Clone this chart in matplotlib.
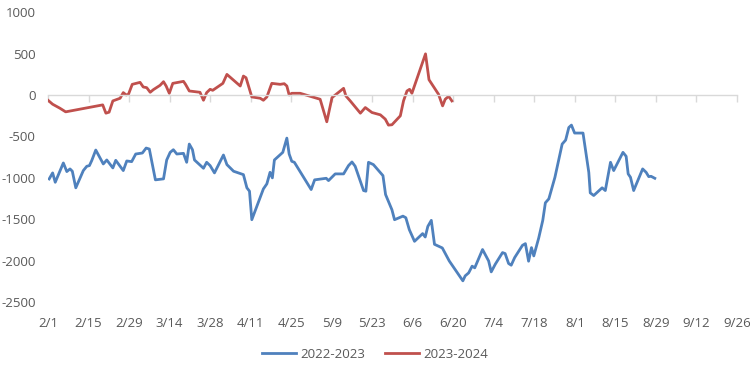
import matplotlib
matplotlib.use("Agg")
import matplotlib.pyplot as plt

# Day offsets from Feb 1 and values
days_2223 = [0.4, 1.6, 2.5, 5.3, 6.5, 7.6, 8.4, 9.6, 12.2, 13.4, 14.3, 15.1, 16.5, 19.1, 20.3,
             22.4, 23.4, 26.0, 27.2, 28.9, 30.3, 32.6, 33.9, 35.0, 37.1, 39.9, 41.0, 42.2, 43.3,
             44.5, 46.8, 47.9, 48.8, 49.9, 50.6, 53.7, 54.8, 56.0, 57.5, 60.6, 61.8, 64.1, 67.5,
             68.7, 69.6, 70.4, 74.4, 75.6, 76.7, 77.5, 78.2, 81.1, 82.5, 83.3, 84.2, 85.1, 90.9,
             92.1, 96.1, 96.9, 99.2, 102.1, 103.8, 105.0, 106.1, 109.0, 109.8, 110.7, 112.4,
             115.7, 116.6, 118.8, 119.7, 122.6, 123.6, 124.8, 126.6, 129.4, 130.3, 131.2, 132.4,
             133.5, 136.2, 138.6, 143.3, 144.1, 145.3, 146.5, 147.4, 150.1, 152.2, 153.1, 154.5,
             157.0, 157.9, 159.1, 160.0, 161.2, 163.9, 164.9, 166.0, 167.0, 167.8, 169.5, 170.9,
             171.8, 173.0, 175.1, 177.6, 178.8, 179.9, 180.8, 181.9, 184.8, 186.8, 187.3, 188.5,
             191.4, 192.5, 194.3, 195.4, 198.6, 199.7, 200.4, 201.2, 202.3, 205.4, 206.6, 207.5,
             208.3, 209.6]
vals_2223 = [-1014, -941, -1054, -821, -925, -893, -921, -1121, -913, -861, -853, -793, -665,
             -833, -785, -881, -789, -913, -797, -805, -713, -701, -641, -653, -1025, -1013,
             -785, -693, -661, -713, -705, -813, -593, -661, -785, -885, -813, -853, -941, -725,
             -841, -921, -962, -1121, -1162, -1506, -1134, -1073, -934, -1001, -785, -693, -521,
             -713, -801, -813, -1142, -1025, -1006, -1034, -953, -953, -853, -809, -861, -1154,
             -1162, -813, -841, -974, -1202, -1386, -1506, -1463, -1482, -1626, -1767, -1674,
             -1715, -1587, -1514, -1803, -1847, -2004, -2244, -2184, -2148, -2067, -2087, -1866,
             -2004, -2136, -2043, -1903, -1915, -2035, -2055, -1963, -1815, -1795, -2007, -1843,
             -1943, -1727, -1514, -1302, -1254, -994, -593, -545, -393, -364, -460, -460, -934,
             -1182, -1214, -1121, -1154, -813, -913, -693, -741, -953, -994, -1154, -893, -934,
             -986, -982, -1006]

days_2324 = [0.0, 1.6, 4.1, 6.1, 18.9, 20.0, 21.1, 22.4, 24.9, 26.0, 27.0, 27.8, 29.1, 31.8,
             32.9, 34.1, 35.3, 36.4, 38.7, 39.9, 40.8, 41.9, 43.1, 46.8, 47.5, 48.8, 52.5, 53.7,
             54.8, 56.0, 56.9, 60.4, 61.8, 66.4, 67.5, 68.4, 70.4, 73.3, 74.4, 75.6, 77.3, 80.2,
             81.6, 82.5, 83.3, 84.2, 87.1, 94.0, 96.3, 98.1, 102.1, 102.9, 104.4, 107.9, 109.6,
             111.9, 114.8, 116.5, 117.6, 118.8, 121.7, 122.8, 124.0, 124.9, 125.7, 130.4, 131.6,
             134.9, 136.3, 137.2, 138.4, 139.5]
vals_2324 = [-64, -112, -160, -204, -120, -220, -208, -72, -40, 28, 0, 8, 128, 152, 96, 88, 32,
             64, 116, 160, 108, 20, 140, 164, 128, 48, 32, -64, 28, 68, 56, 140, 248, 108, 228,
             208, -24, -40, -64, -24, 140, 128, 136, 108, 0, 20, 20, -52, -324, -32, 80, -12,
             -72, -220, -152, -212, -240, -292, -364, -360, -252, -72, 48, 68, 20, 496, 184, 8,
             -132, -52, -16, -72]

tick_days = list(range(0, 239, 14))
tick_labels = ["2/1", "2/15", "2/29", "3/14", "3/28", "4/11", "4/25", "5/9", "5/23", "6/6",
               "6/20", "7/4", "7/18", "8/1", "8/15", "8/29", "9/12", "9/26"]
y_ticks = [1000, 500, 0, -500, -1000, -1500, -2000, -2500]

plt.rcParams['font.family'] = ['Open Sans', 'DejaVu Sans']
txt = '#595959'

fig = plt.figure(figsize=(7.5, 3.67), dpi=100)
ax = fig.add_axes([0.064, 0.177, 0.9187, 0.790])

ax.plot(days_2223, vals_2223, color='#4F81BD', lw=2.0, label='2022-2023', solid_joinstyle='round')
ax.plot(days_2324, vals_2324, color='#C0504D', lw=2.0, label='2023-2024', solid_joinstyle='round')

ax.set_xlim(0, 238)
ax.set_ylim(-2500, 1000)
ax.set_yticks(y_ticks)
ax.set_yticklabels([str(v) for v in y_ticks])
ax.tick_params(axis='y', length=0, pad=9, labelsize=9.5, labelcolor=txt)

for s in ['top', 'right', 'left']:
    ax.spines[s].set_visible(False)
ax.spines['bottom'].set_position(('data', 0))
ax.spines['bottom'].set_color('#d9d9d9')
ax.spines['bottom'].set_linewidth(1.0)
ax.set_xticks(tick_days)
ax.tick_params(axis='x', direction='out', length=5, width=1.0, color='#d9d9d9', labelbottom=False)

sec = ax.secondary_xaxis('bottom')
sec.set_xticks(tick_days)
sec.set_xticklabels(tick_labels)
sec.spines['bottom'].set_visible(False)
sec.tick_params(axis='x', length=0, pad=11, labelsize=9.5, labelcolor=txt)

leg = fig.legend(loc='center', bbox_to_anchor=(0.5, 0.035), ncol=2, frameon=False,
                 fontsize=9.5, handlelength=2.6, columnspacing=1.5, handletextpad=0.3)
for t in leg.get_texts():
    t.set_color(txt)

fig.savefig('out.png', dpi=100)
